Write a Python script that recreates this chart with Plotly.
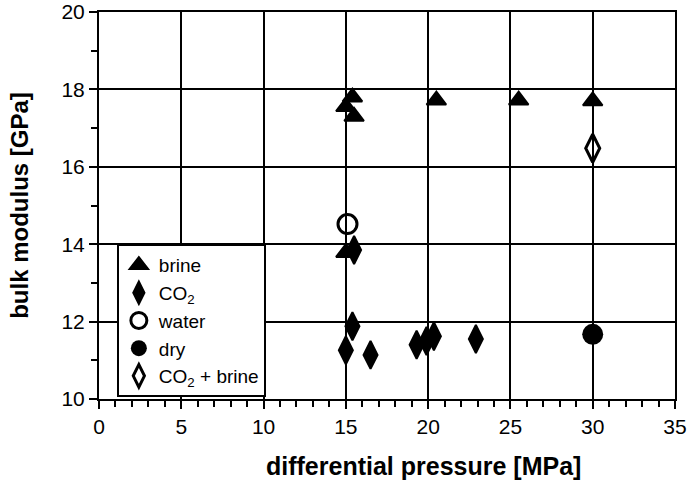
import plotly.graph_objects as go

# Bulk modulus measurements versus differential pressure
brine_p = [15.0, 15.4, 15.5, 20.5, 25.5, 30.0, 15.0]
brine_k = [17.55, 17.8, 17.3, 17.72, 17.72, 17.7, 13.78]

co2_p = [15.5, 15.4, 15.0, 16.5, 19.3, 19.9, 20.35, 22.9]
co2_k = [13.85, 11.88, 11.26, 11.14, 11.4, 11.5, 11.62, 11.55]

water_p = [15.1]
water_k = [14.52]

dry_p = [30.0]
dry_k = [11.67]

mix_p = [30.0]
mix_k = [16.48]

FONT = "Liberation Sans, Arial, sans-serif"

fig = go.Figure()
fig.add_trace(go.Scatter(
    x=brine_p, y=brine_k, mode="markers", name="brine",
    marker=dict(symbol="triangle-up", size=17, color="black",
                line=dict(width=2, color="black")),
))
fig.add_trace(go.Scatter(
    x=co2_p, y=co2_k, mode="markers", name="CO<sub>2</sub>",
    marker=dict(symbol="diamond-tall", size=20, color="black",
                line=dict(width=2, color="black")),
))
fig.add_trace(go.Scatter(
    x=water_p, y=water_k, mode="markers", name="water",
    marker=dict(symbol="circle-open", size=19, color="black", line=dict(width=3)),
))
fig.add_trace(go.Scatter(
    x=dry_p, y=dry_k, mode="markers", name="dry",
    marker=dict(symbol="circle", size=21, color="black", line=dict(width=0)),
))
fig.add_trace(go.Scatter(
    x=mix_p, y=mix_k, mode="markers", name="CO<sub>2</sub> + brine",
    marker=dict(symbol="diamond-tall-open", size=20, color="black", line=dict(width=3)),
))

axis_common = dict(
    automargin=False,
    showline=True, linecolor="black", linewidth=2, mirror=True,
    showgrid=True, gridcolor="black", gridwidth=2,
    zeroline=False,
    ticks="outside", ticklen=8, tickwidth=2, tickcolor="black",
    tickfont=dict(family=FONT, size=21, color="black"),
)

fig.update_xaxes(
    range=[0, 35], dtick=5, tick0=0,
    minor=dict(dtick=1, ticks="outside", ticklen=6, tickwidth=2,
               tickcolor="black", showgrid=False),
    **axis_common,
)
fig.update_yaxes(
    range=[10, 20], dtick=2, tick0=10,
    minor=dict(dtick=1, ticks="outside", ticklen=6, tickwidth=2,
               tickcolor="black", showgrid=False),
    title=dict(text="<b>bulk modulus [GPa]</b>",
               font=dict(family=FONT, size=24, color="black"), standoff=26),
    **axis_common,
)

# x-axis title, set a little right of the plot centre
fig.add_annotation(
    text="<b>differential pressure [MPa]</b>",
    xref="paper", yref="paper", x=0.5625, y=-0.173,
    xanchor="center", yanchor="middle", showarrow=False,
    font=dict(family=FONT, size=25, color="black"),
)

fig.update_layout(
    width=692, height=487,
    margin=dict(l=99, r=17, t=12, b=88, autoexpand=False),
    plot_bgcolor="white", paper_bgcolor="white",
    font=dict(family=FONT, size=21, color="black"),
    legend=dict(
        x=0.031, y=0.40, xanchor="left", yanchor="top",
        bgcolor="white", bordercolor="black", borderwidth=2,
        font=dict(family=FONT, size=19, color="black"),
        itemwidth=30, tracegroupgap=0,
    ),
    showlegend=True,
)

fig.write_html("out.html")
